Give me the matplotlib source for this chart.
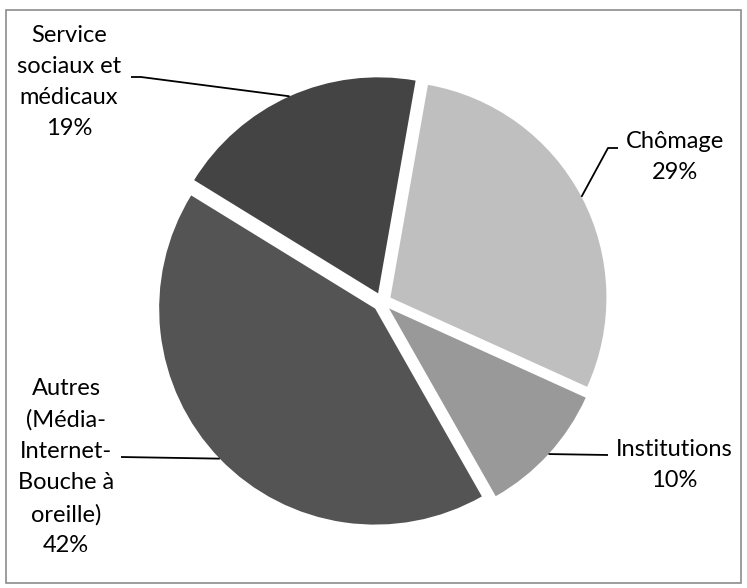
import matplotlib.pyplot as plt
import matplotlib.patches as mpatches
import numpy as np

labels = ['Chômage', 'Institutions', 'Autres\n(Média-\nInternet-\nBouche à\noreille)', 'Service\nsociaux et\nmédicaux']
values = [29, 10, 42, 19]
colors = ['#BFBFBF', '#999999', '#545454', '#444444']

W, H = 747, 588
# label block centres (pixel coords, y from top) and elbow points of leader lines
label_pos = [(675, 157), (674, 465), (66, 467), (69, 82)]
leader_start = [[(618, 148), (608, 148)], [(608, 455)], [(121, 457)], [(131, 77), (141, 77)]]

plt.rcParams['font.family'] = ['Lato', 'DejaVu Sans']

fig = plt.figure(figsize=(W / 100, H / 100), dpi=100)
ax = fig.add_axes([0, 0, 1, 1])
ax.set_xlim(0, W)
ax.set_ylim(0, H)
ax.set_aspect('equal')
ax.axis('off')

cx, cy, r = 382, H - 302, 216
# matplotlib's explode is an absolute offset in data units here (pixels)
wedges, _ = ax.pie(values, colors=colors, startangle=80, counterclock=False,
                   explode=[9.5] * len(values), center=(cx, cy), radius=r,
                   wedgeprops=dict(linewidth=0))
ax.set_xlim(0, W)
ax.set_ylim(0, H)

for w, lab, val, pos, pts in zip(wedges, labels, values, label_pos, leader_start):
    mid = np.deg2rad((w.theta1 + w.theta2) / 2)
    ex, ey = w.center
    px = ex + w.r * np.cos(mid)
    py = ey + w.r * np.sin(mid)
    xs = [p[0] for p in pts] + [px]
    ys = [H - p[1] for p in pts] + [py]
    ax.plot(xs, ys, color='black', linewidth=1.3, solid_capstyle='butt')
    ax.text(pos[0], H - pos[1], f'{lab}\n{val}%', ha='center', va='center',
            fontsize=17, linespacing=1.6, color='black')

border = mpatches.Rectangle((6, 5), W - 12, H - 15, transform=ax.transData,
                            fill=False, edgecolor='#8C8C8C', linewidth=1.2)
ax.add_patch(border)

fig.savefig('out.png', dpi=100)
